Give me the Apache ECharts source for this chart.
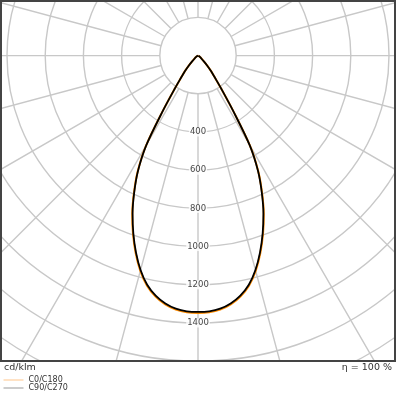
<!DOCTYPE html>
<html><head><meta charset="utf-8">
<script src="https://cdn.jsdelivr.net/npm/echarts@6/dist/echarts.min.js"></script>
<style>html,body{margin:0;padding:0;background:#fff}#c{width:396px;height:396px}</style>
</head><body><div id="c"></div>
<script>
const gammaAngles = [0, 2.5, 5, 7.5, 10, 12.5, 15, 17.5, 20, 22.5, 25, 27.5, 30, 32.5, 35, 37.5, 40, 42.5, 45, 50, 55, 60, 70, 80, 90];
const c0c180  = [1347, 1345, 1335, 1314, 1281, 1234, 1167, 1085, 995, 900, 794, 684, 544, 343, 217, 146, 108, 73, 46, 23, 12, 7, 2, 0, 0];
const c90c270 = [1342, 1340, 1330, 1309, 1276, 1229, 1162, 1080, 990, 895, 790, 680, 540, 340, 215, 145, 107, 72, 45, 22, 12, 7, 2, 0, 0];
const radialTicks = [400, 600, 800, 1000, 1200, 1400];
const seriesNames = ['C0/C180', 'C90/C270'];
const unitLabel = 'cd/klm';
const efficiencyLabel = 'η = 100 %';

function curve(vals) {
  const pts = [];
  for (let i = gammaAngles.length - 1; i >= 0; i--) pts.push([vals[i], gammaAngles[i]]);
  for (let i = 1; i < gammaAngles.length; i++) pts.push([vals[i], 360 - gammaAngles[i]]);
  return pts;
}

const FONT = 'DejaVu Sans';
const chart = echarts.init(document.getElementById('c'), null, {renderer: 'canvas'});
const CX = 198, CY = 55.6, R = 382;
const NOSYM = {color: 'rgba(0,0,0,0)', borderColor: 'rgba(0,0,0,0)', borderWidth: 0, opacity: 0};
chart.setOption({
  animation: false,
  backgroundColor: '#fff',
  textStyle: {fontFamily: FONT},
  polar: [
    {center: [CX, CY], radius: [R * 0.1, R]},
    {center: [CX, CY], radius: [0, R]}
  ],
  radiusAxis: [
    {polarIndex: 0, type: 'value', min: 200, max: 2000, interval: 200,
     axisLine: {show: false}, axisTick: {show: false}, axisLabel: {show: false},
     splitLine: {show: true, lineStyle: {color: '#c8c8c8', width: 1.4}}},
    {polarIndex: 1, type: 'value', min: 0, max: 2000, show: false}
  ],
  angleAxis: [
    {polarIndex: 0, type: 'value', min: 0, max: 360, interval: 15, startAngle: 270,
     axisLine: {show: false}, axisTick: {show: false}, axisLabel: {show: false},
     splitLine: {show: true, lineStyle: {color: '#c8c8c8', width: 1.4}}},
    {polarIndex: 1, type: 'value', min: 0, max: 360, startAngle: 270, show: false}
  ],
  legend: {
    orient: 'vertical', left: 3, top: 376, z: 60,
    itemWidth: 20, itemHeight: 8, itemGap: 0, padding: 0,
    textStyle: {fontSize: 8, color: '#333', fontFamily: FONT},
    data: [
      {name: seriesNames[0], lineStyle: {color: '#ffc58a', width: 1}, itemStyle: NOSYM},
      {name: seriesNames[1], lineStyle: {color: '#999999', width: 1}, itemStyle: NOSYM}
    ]
  },
  series: [
    {name: seriesNames[0], type: 'line', coordinateSystem: 'polar', polarIndex: 1,
     data: curve(c0c180), smooth: 0.3, symbol: 'none', clip: false, z: 3,
     lineStyle: {color: '#ff8c00', width: 2}, itemStyle: {color: '#ff8c00'}},
    {name: seriesNames[1], type: 'line', coordinateSystem: 'polar', polarIndex: 1,
     data: curve(c90c270), smooth: 0.3, symbol: 'none', clip: false, z: 4,
     lineStyle: {color: '#000', width: 1.8}, itemStyle: {color: '#000'}},
    {type: 'scatter', coordinateSystem: 'polar', polarIndex: 1, silent: true, z: 5,
     data: radialTicks.map(v => [v, 0]), symbolSize: 1, itemStyle: {color: 'rgba(0,0,0,0)'},
     label: {show: true, position: 'inside', formatter: p => String(p.value[0]),
             fontSize: 8.5, color: '#111', fontFamily: FONT, backgroundColor: '#fff', padding: [0, 1]}}
  ],
  graphic: [
    {type: 'rect', z: 50, shape: {x: 0, y: 362, width: 396, height: 34}, style: {fill: '#fff'}},
    {type: 'rect', z: 51, shape: {x: 1, y: 1, width: 394, height: 360}, style: {fill: 'none', stroke: '#444', lineWidth: 2}},
    {type: 'text', z: 60, x: 4, y: 368, style: {text: unitLabel, font: '9.5px "DejaVu Sans"', fill: '#333', textVerticalAlign: 'middle'}},
    {type: 'text', z: 60, x: 392, y: 368, style: {text: efficiencyLabel, font: '9.5px "DejaVu Sans"', fill: '#333', textAlign: 'right', textVerticalAlign: 'middle'}}
  ]
});
</script></body></html>
